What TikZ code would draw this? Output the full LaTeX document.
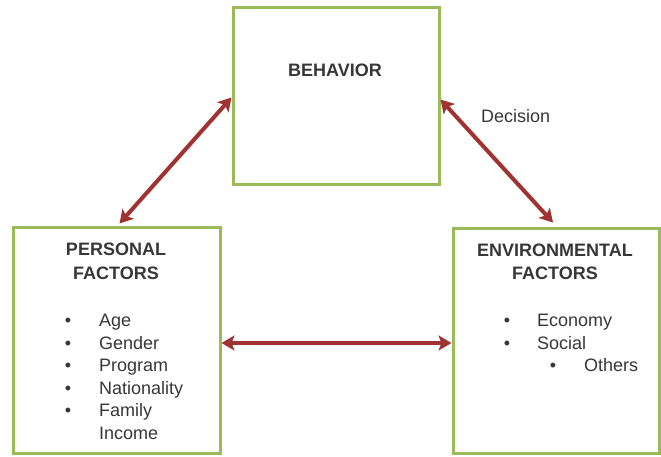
\documentclass[tikz,border=0pt]{standalone}
\usepackage{fontspec}
\setmainfont{Liberation Sans}
\usetikzlibrary{arrows.meta}
\definecolor{boxgreen}{RGB}{155,187,89}
\definecolor{arrowred}{RGB}{160,50,50}
\definecolor{textgray}{RGB}{55,55,55}
\begin{document}
\begin{tikzpicture}[x=1pt,y=-1pt]
\tikzstyle{every node}+=[inner sep=0pt, font=\fontsize{18}{22}\selectfont, text=textgray]
\tikzstyle{factorbox}=[draw=boxgreen, line width=3pt, fill=white]
\tikzstyle{link}=[draw=arrowred, line width=4pt, {Stealth[length=13pt,width=15pt,inset=3pt]}-{Stealth[length=13pt,width=15pt,inset=3pt]}]
\useasboundingbox [fill=white] (0,0) rectangle (661,456);
% boxes
\node [factorbox, minimum width=206pt, minimum height=177pt] (behavior) at (336,95.5) {};
\node [factorbox, minimum width=207pt, minimum height=226pt] (personal) at (116.5,340) {};
\node [factorbox, minimum width=206pt, minimum height=225pt] (environ) at (556,340.5) {};
% titles
\node [anchor=base] (behaviortitle) at (335,76.5) {\textbf{BEHAVIOR}};
\node [anchor=base] (personaltitle) at (116,255.5) {\textbf{PERSONAL}};
\node [anchor=base] (personalsub) at (116,279.5) {\textbf{FACTORS}};
\node [anchor=base] (environtitle) at (555,256.5) {\textbf{ENVIRONMENTAL}};
\node [anchor=base] (environsub) at (555,279.5) {\textbf{FACTORS}};
\node [anchor=base west] (decision) at (481,122.5) {Decision};
% personal list
\node [anchor=base] (pb1) at (68,326.5) {•};
\node [anchor=base west] (age) at (99,326.5) {Age};
\node [anchor=base] (pb2) at (68,349) {•};
\node [anchor=base west] (gender) at (99,349) {Gender};
\node [anchor=base] (pb3) at (68,371.5) {•};
\node [anchor=base west] (program) at (99,371.5) {Program};
\node [anchor=base] (pb4) at (68,394) {•};
\node [anchor=base west] (nationality) at (99,394) {Nationality};
\node [anchor=base] (pb5) at (68,416.5) {•};
\node [anchor=base west] (family) at (99,416.5) {Family};
\node [anchor=base west] (income) at (99,439) {Income};
% environmental list
\node [anchor=base] (eb1) at (507,326.5) {•};
\node [anchor=base west] (economy) at (537,326.5) {Economy};
\node [anchor=base] (eb2) at (507,349) {•};
\node [anchor=base west] (social) at (537,349) {Social};
\node [anchor=base] (eb3) at (553,371.5) {•};
\node [anchor=base west] (others) at (584,371.5) {Others};
% arrows
\draw [link] ([yshift=-2pt]behavior.west) -- ([xshift=3pt,yshift=2pt]personal.north);
\draw [link] ([yshift=-4pt]behavior.east) -- ([xshift=-3pt,yshift=4pt]environ.north);
\draw [link] ([yshift=-3pt]personal.east) -- ([yshift=-2.5pt]environ.west);
\end{tikzpicture}
\end{document}
